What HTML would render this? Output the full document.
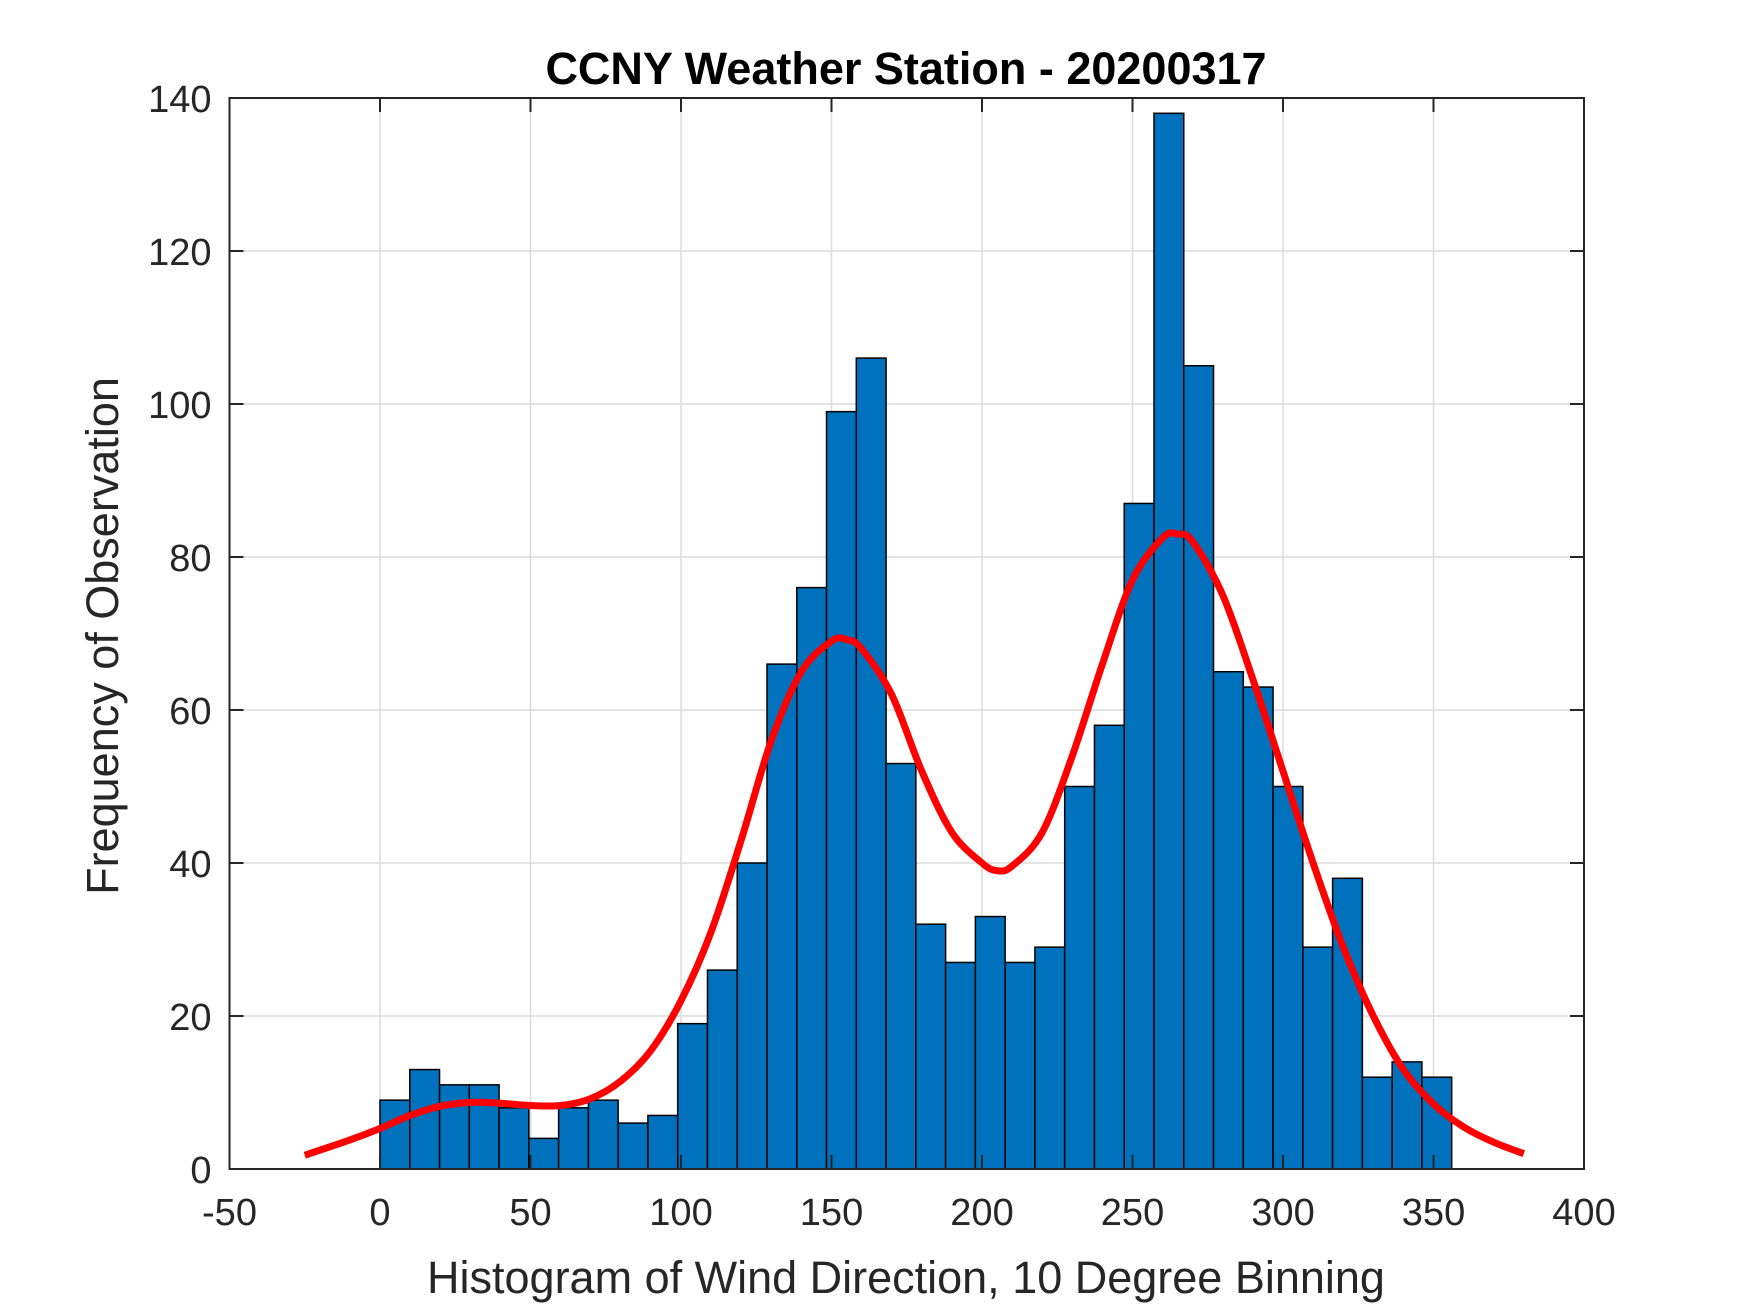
<!DOCTYPE html>
<html><head><meta charset="utf-8"><style>
html,body{margin:0;padding:0;background:#fff;}
svg{display:block;font-family:"Liberation Sans",Arial,sans-serif;}
</style></head><body>
<svg id="chart" width="1750" height="1313" viewBox="0 0 1750 1313">
<rect x="0" y="0" width="1750" height="1313" fill="#fff"/>
<g id="grid"></g>
<g id="bars"></g>
<path id="fit" fill="none" stroke="#ff0000" stroke-width="7" stroke-linejoin="round"/>
<g id="axes"></g>
<text x="906" y="84" text-anchor="middle" font-size="45" font-weight="bold" fill="#000">CCNY Weather Station - 20200317</text>
<text x="906" y="1293" text-anchor="middle" font-size="45" fill="#262626">Histogram of Wind Direction, 10 Degree Binning</text>
<text transform="translate(118,636) rotate(-90)" text-anchor="middle" font-size="45" fill="#262626">Frequency of Observation</text>
</svg>
<script>
const binStart = 0;
const binWidth = 9.89;
const counts = [9,13,11,11,8,4,8,9,6,7,19,26,40,66,76,99,106,53,32,27,33,27,29,50,58,87,138,105,65,63,50,29,38,12,14,12];
const curveX = [-25,-10,0,10,20,30,40,50,60,70,80,90,100,110,120,130,140,150,155,160,170,180,190,200,205,210,220,230,240,250,260,265,270,280,290,300,310,320,330,340,350,360,370,380];
const curveY = [1.8,3.8,5.3,7,8.2,8.7,8.6,8.3,8.3,9.2,11.5,15.5,22,31,43,56,65,69,69.2,68,62,52,44,40,39,39.6,44,54,66,77,82.5,83,82,75,64,52,40,29,20,13,8.5,5.5,3.5,2];
const xTicks = [-50,0,50,100,150,200,250,300,350,400];
const yTicks = [0,20,40,60,80,100,120,140];

const L=229.5,R=1584,T=98,B=1169;
const xMin=-50,xMax=400,yMin=0,yMax=140;
const sx=v=>L+(v-xMin)/(xMax-xMin)*(R-L);
const sy=v=>B-(v-yMin)/(yMax-yMin)*(B-T);
const NS='http://www.w3.org/2000/svg';
function mk(tag,attrs,parent){const e=document.createElementNS(NS,tag);for(const k in attrs)e.setAttribute(k,attrs[k]);parent.appendChild(e);return e;}

const grid=document.getElementById('grid');
const axes=document.getElementById('axes');
xTicks.forEach(t=>{
  const x=sx(t);
  if(t>xMin&&t<xMax){
    const g=mk('line',{x1:x,x2:x,y1:T,y2:B,stroke:'#dcdcdc','stroke-width':1.5},grid);
    
    
  }
  mk('line',{x1:x,x2:x,y1:B,y2:B-14,stroke:'#262626','stroke-width':2},axes);
  mk('line',{x1:x,x2:x,y1:T,y2:T+14,stroke:'#262626','stroke-width':2},axes);
  const tx=mk('text',{x:x,y:B+56,'text-anchor':'middle','font-size':38,fill:'#262626'},axes);
  tx.textContent=t;
  
  
});
yTicks.forEach(t=>{
  const y=sy(t);
  if(t>yMin&&t<yMax){
    const g=mk('line',{x1:L,x2:R,y1:y,y2:y,stroke:'#dcdcdc','stroke-width':1.5},grid);
    
    
  }
  mk('line',{x1:L,x2:L+14,y1:y,y2:y,stroke:'#262626','stroke-width':2},axes);
  mk('line',{x1:R,x2:R-14,y1:y,y2:y,stroke:'#262626','stroke-width':2},axes);
  const tx=mk('text',{x:L-18,y:y+14,'text-anchor':'end','font-size':38,fill:'#262626'},axes);
  tx.textContent=t;
  
  
});
mk('rect',{x:L,y:T,width:R-L,height:B-T,fill:'none',stroke:'#262626','stroke-width':2},axes);

const bars=document.getElementById('bars');
counts.forEach((c,i)=>{
  const x0=sx(binStart+i*binWidth),x1=sx(binStart+(i+1)*binWidth);
  const r=mk('rect',{x:x0,y:sy(c),width:x1-x0,height:sy(0)-sy(c),fill:'#0072BD',stroke:'#000','stroke-width':1.5},bars);
  
  
});

const pts=curveX.map((v,i)=>[sx(v),sy(curveY[i])]);
let d='M'+pts[0][0]+','+pts[0][1];
for(let i=0;i<pts.length-1;i++){
  const p0=pts[Math.max(0,i-1)],p1=pts[i],p2=pts[i+1],p3=pts[Math.min(pts.length-1,i+2)];
  const c1=[p1[0]+(p2[0]-p0[0])/6,p1[1]+(p2[1]-p0[1])/6];
  const c2=[p2[0]-(p3[0]-p1[0])/6,p2[1]-(p3[1]-p1[1])/6];
  d+=' C'+c1[0]+','+c1[1]+' '+c2[0]+','+c2[1]+' '+p2[0]+','+p2[1];
}
document.getElementById('fit').setAttribute('d',d);
</script>
</body></html>
